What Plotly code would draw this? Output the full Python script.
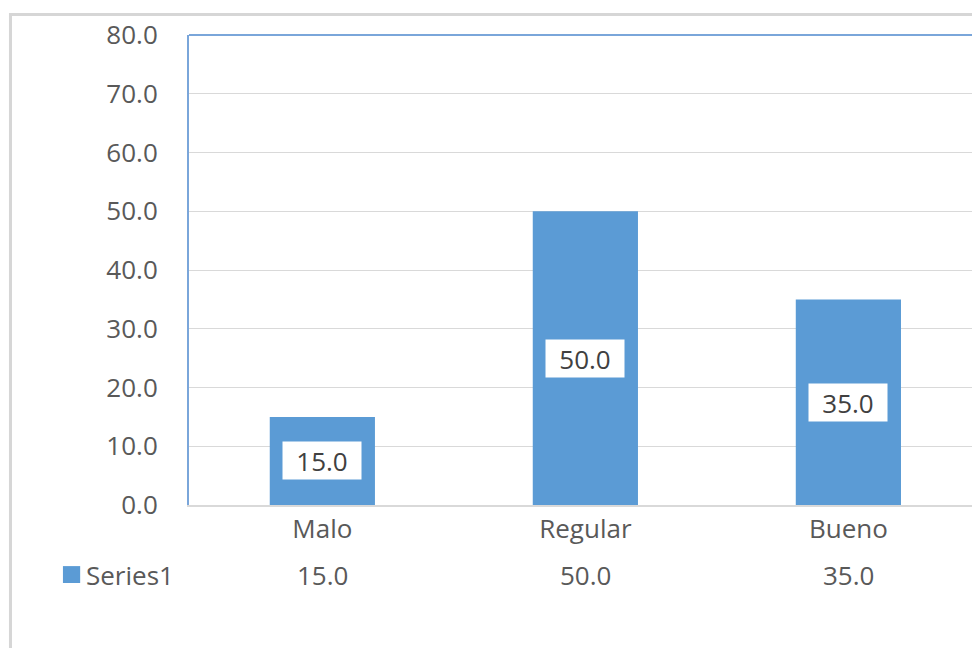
import plotly.graph_objects as go

# Survey ratings
categories = ["Malo", "Regular", "Bueno"]
values = [15.0, 50.0, 35.0]
series_name = "Series1"

y_ticks = [0, 10, 20, 30, 40, 50, 60, 70, 80]
y_ticktext = [f"{v:.1f}" for v in y_ticks]

BAR = "#5b9bd5"
TEXT = "#595959"
GRID = "#d9d9d9"
FONT = "Open Sans"
SIZE = 26

fig = go.Figure()
fig.add_trace(go.Bar(
    x=categories, y=values, name=series_name,
    marker=dict(color=BAR, line=dict(width=0)),
    showlegend=False, hoverinfo="skip",
))

# Data labels: white boxes centred inside each bar
for c, v in zip(categories, values):
    fig.add_annotation(
        x=c, y=v / 2, xref="x", yref="y",
        text=f"{v:.1f}", showarrow=False,
        font=dict(family=FONT, size=SIZE, color="#404040"),
        bgcolor="white", width=78, height=37, borderpad=0,
    )

# Data table row beneath the category axis
for c, v in zip(categories, values):
    fig.add_annotation(
        x=c, y=-0.149, xref="x", yref="paper",
        text=f"{v:.1f}", showarrow=False, yanchor="middle",
        font=dict(family=FONT, size=SIZE, color=TEXT),
    )
fig.add_annotation(
    x=-0.134, y=-0.149, xref="paper", yref="paper",
    text=series_name, showarrow=False, xanchor="left", yanchor="middle",
    font=dict(family=FONT, size=SIZE, color=TEXT),
)
# legend key square
fig.add_shape(type="rect", xref="paper", yref="paper",
              x0=-0.161, x1=-0.139, y0=-0.166, y1=-0.130,
              fillcolor=BAR, line=dict(width=0), layer="above")

# top border of the plot area
fig.add_shape(type="line", xref="paper", yref="paper",
              x0=0, x1=1, y0=1, y1=1,
              line=dict(color="#7aa6da", width=2))
# outer chart frame
fig.add_shape(type="rect", xref="paper", yref="paper",
              x0=-0.228, x1=1.2, y0=-0.6, y1=1.0436,
              line=dict(color="#d6d6d6", width=3), layer="below")

fig.update_layout(
    width=972, height=648,
    margin=dict(l=189, r=0, t=35, b=143),
    paper_bgcolor="white", plot_bgcolor="white",
    bargap=0.6,
    font=dict(family=FONT, color=TEXT),
    xaxis=dict(
        type="category", range=[-0.507, 2.47],
        showline=True, linecolor=GRID, linewidth=1.5,
        showgrid=False, ticks="",
        tickfont=dict(family=FONT, size=SIZE, color=TEXT),
        ticklabelstandoff=0,
    ),
    yaxis=dict(
        range=[0, 80], tickvals=y_ticks, ticktext=y_ticktext,
        showline=True, linecolor="#7aa6da", linewidth=2,
        showgrid=True, gridcolor=GRID, gridwidth=1,
        zeroline=False, ticks="",
        tickfont=dict(family=FONT, size=SIZE, color=TEXT),
        ticklabelstandoff=24,
    ),
)

fig.write_html("out.html")
